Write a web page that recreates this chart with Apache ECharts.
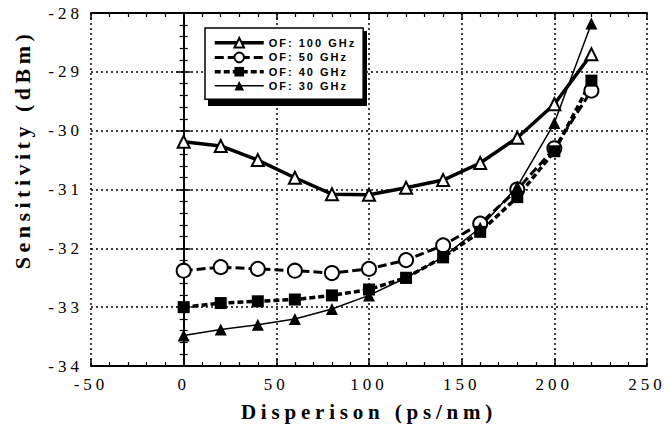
<!DOCTYPE html>
<html><head><meta charset="utf-8">
<script src="https://cdn.jsdelivr.net/npm/echarts@6/dist/echarts.min.js"></script>
<style>
html,body{margin:0;padding:0;background:#fff}
#c{width:669px;height:435px}
svg text[style*="22px"]{letter-spacing:4.5px}
svg text[style*="21px"]{letter-spacing:4.8px}
svg text[style*="17px"]{letter-spacing:4px}
svg text[style*="11px"]{letter-spacing:2px}
</style></head>
<body><div id="c"></div>
<script>
const dispersion = [0, 20, 40, 60, 80, 100, 120, 140, 160, 180, 200, 220];
const of100 = [-30.19, -30.26, -30.5, -30.8, -31.08, -31.09, -30.97, -30.84, -30.55, -30.12, -29.55, -28.7];
const of50  = [-32.38, -32.32, -32.35, -32.38, -32.42, -32.35, -32.2, -31.95, -31.58, -31.0, -30.3, -29.32];
const of40  = [-33.0, -32.93, -32.9, -32.87, -32.8, -32.7, -32.5, -32.15, -31.72, -31.13, -30.35, -29.15];
const of30  = [-33.48, -33.38, -33.3, -33.2, -33.03, -32.8, -32.5, -32.15, -31.65, -30.95, -29.87, -28.18];
const seriesNames = ['OF: 100 GHz', 'OF: 50 GHz', 'OF: 40 GHz', 'OF: 30 GHz'];
const xName = 'Disperison (ps/nm)';
const yName = 'Sensitivity (dBm)';

const pairs = arr => dispersion.map((d, i) => [d, arr[i]]);
const chart = echarts.init(document.getElementById('c'), null, {renderer: 'svg'});
const axisCommon = {
  axisLine: {show: true, lineStyle: {color: '#000', width: 2}},
  axisTick: {show: true, inside: true, length: 7, lineStyle: {color: '#000', width: 1.5}},
  minorTick: {show: true, splitNumber: 5, length: 4, lineStyle: {color: '#000', width: 1.2}},
};
chart.setOption({
  animation: false,
  grid: {left: 91, right: 22, top: 13, bottom: 69},
  graphic: [{
    type: 'rect', z: 3, silent: true,
    shape: {x: 208, y: 31, width: 159, height: 75},
    style: {fill: '#000'}
  }],
  legend: {
    orient: 'vertical', left: 205, top: 28, z: 10,
    data: seriesNames,
    itemWidth: 49, itemHeight: 12, itemGap: 3,
    padding: [9, 29, 8, 8],
    backgroundColor: '#fff', borderColor: '#000', borderWidth: 1.5,
    lineStyle: {width: 'inherit'},
    textStyle: {fontFamily: 'Liberation Sans', fontWeight: 'bold', fontSize: 11, color: '#000'}
  },
  xAxis: [{
    type: 'value', min: -50, max: 250, interval: 50,
    name: xName, nameLocation: 'middle', nameGap: 35,
    nameTextStyle: {fontFamily: 'Liberation Serif', fontWeight: 'bold', fontSize: 21, color: '#000'},
    axisLabel: {margin: 10, fontFamily: 'Liberation Serif', fontSize: 17, color: '#000'},
    splitLine: {show: true, lineStyle: {color: '#000', type: [2, 3], width: 1.5}},
    ...axisCommon
  }, {
    type: 'value', position: 'top', min: -50, max: 250, interval: 50,
    axisLabel: {show: false}, splitLine: {show: false},
    ...axisCommon
  }],
  yAxis: [{
    type: 'value', min: -34, max: -28, interval: 1,
    name: yName, nameLocation: 'middle', nameGap: 58,
    nameTextStyle: {fontFamily: 'Liberation Serif', fontWeight: 'bold', fontSize: 22, color: '#000', padding: [0, 0, 0, 80]},
    axisLabel: {margin: 8, fontFamily: 'Liberation Serif', fontSize: 17, color: '#000'},
    splitLine: {show: true, lineStyle: {color: '#000', type: [2, 3], width: 1.5}},
    ...axisCommon
  }, {
    type: 'value', position: 'right', min: -34, max: -28, interval: 1,
    axisLabel: {show: false}, splitLine: {show: false},
    ...axisCommon
  }],
  series: [{
    name: seriesNames[0], type: 'line', data: pairs(of100),
    symbol: 'emptyTriangle', symbolSize: 12,
    lineStyle: {color: '#000', width: 3.5}, itemStyle: {color: '#000', borderWidth: 1.5}
  }, {
    name: seriesNames[1], type: 'line', data: pairs(of50),
    symbol: 'emptyCircle', symbolSize: 14,
    lineStyle: {color: '#000', width: 3, type: [9, 4]}, itemStyle: {color: '#000', borderWidth: 1.5}
  }, {
    name: seriesNames[2], type: 'line', data: pairs(of40),
    symbol: 'rect', symbolSize: 12,
    lineStyle: {color: '#000', width: 3.5, type: [6, 3]}, itemStyle: {color: '#000'}
  }, {
    name: seriesNames[3], type: 'line', data: pairs(of30),
    symbol: 'triangle', symbolSize: 12,
    lineStyle: {color: '#000', width: 1.5}, itemStyle: {color: '#000'}
  }]
});
</script></body></html>
